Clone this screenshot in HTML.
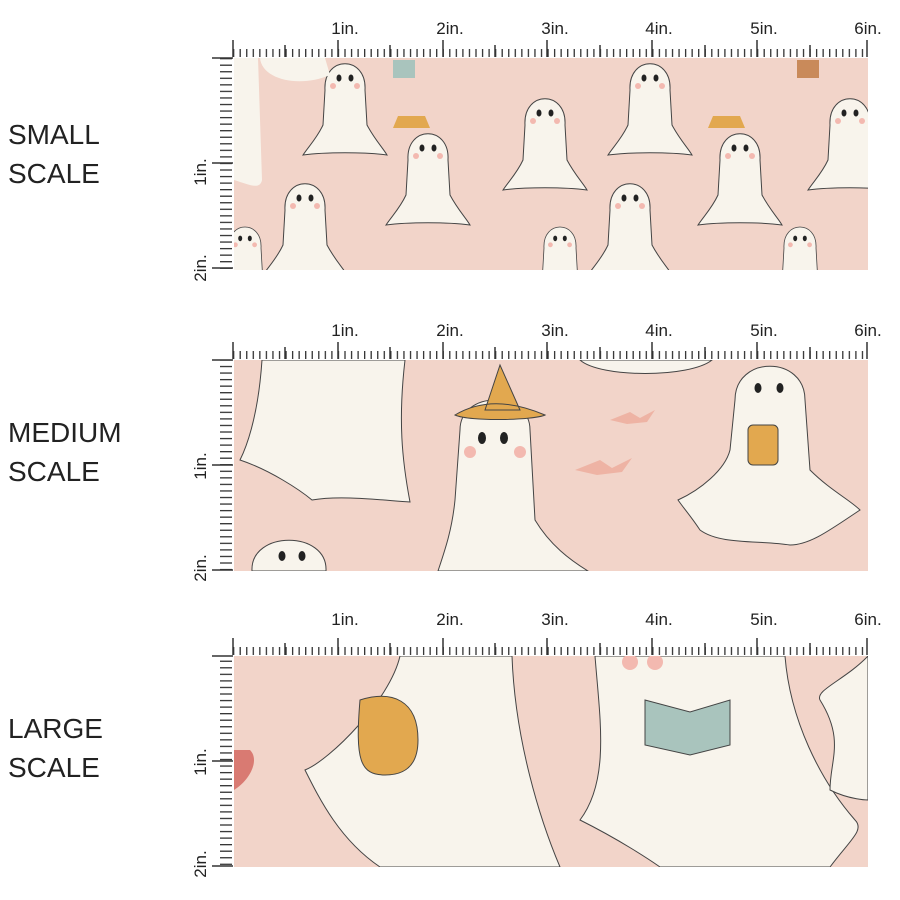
<!DOCTYPE html>
<html><head><style>body{margin:0;background:#fff}svg{display:block}</style></head><body>
<svg width="900" height="900" viewBox="0 0 900 900" xmlns="http://www.w3.org/2000/svg" font-family="Liberation Sans, sans-serif">
<defs>
<pattern id="ht" x="233" y="0" width="6.55" height="900" patternUnits="userSpaceOnUse"><rect x="0" y="0" width="1.3" height="900" fill="#333"/></pattern>
<pattern id="vt" x="0" y="58" width="900" height="6.55" patternUnits="userSpaceOnUse"><rect x="0" y="0" width="900" height="1.3" fill="#333"/></pattern>
<clipPath id="c1"><rect x="234" y="58" width="634" height="212"/></clipPath>
<clipPath id="c2"><rect x="234" y="360" width="634" height="211"/></clipPath>
<clipPath id="c3"><rect x="234" y="656" width="634" height="211"/></clipPath>
<g id="g1"><path d="M-20,10 C-22,-25 22,-25 20,10 L22,45 C30,60 38,68 42,75 C20,72 -20,72 -42,75 C-36,66 -28,58 -22,45 Z" fill="#f8f4ec" stroke="#444" stroke-width="1"/><ellipse cx="-6" cy="-2" rx="2.5" ry="3.5" fill="#222"/><ellipse cx="6" cy="-2" rx="2.5" ry="3.5" fill="#222"/><circle cx="-12" cy="6" r="3" fill="#f3b9b0"/><circle cx="12" cy="6" r="3" fill="#f3b9b0"/></g>
</defs>
<g font-size="28" fill="#222">
<text x="8" y="144">SMALL</text><text x="8" y="183">SCALE</text>
<text x="8" y="442">MEDIUM</text><text x="8" y="481">SCALE</text>
<text x="8" y="738">LARGE</text><text x="8" y="777">SCALE</text>
</g>

<!-- panel 1 -->
<rect x="234" y="58" width="634" height="212" fill="#f2d4c9"/>
<g clip-path="url(#c1)">
<use href="#g1" transform="translate(345,80)"/>
<use href="#g1" transform="translate(428,150)"/>
<use href="#g1" transform="translate(545,115)"/>
<use href="#g1" transform="translate(650,80)"/>
<use href="#g1" transform="translate(740,150)"/>
<use href="#g1" transform="translate(850,115)"/>
<use href="#g1" transform="translate(305,200)"/>
<use href="#g1" transform="translate(560,240) scale(.8)"/>
<use href="#g1" transform="translate(630,200)"/>
<use href="#g1" transform="translate(800,240) scale(.8)"/>
<use href="#g1" transform="translate(245,240) scale(.8)"/>
<path d="M234,58 L234,180 C250,185 260,190 262,180 L258,58Z" fill="#f8f4ec"/>
<path d="M260,58 C262,80 300,88 330,75 L325,58Z" fill="#f8f4ec"/>
<rect x="393" y="60" width="22" height="18" fill="#a9c4bd"/>
<rect x="797" y="60" width="22" height="18" fill="#c98a5a"/>
<path d="M398,116 L425,116 L430,128 L393,128Z" fill="#e2a84f"/>
<path d="M713,116 L740,116 L745,128 L708,128Z" fill="#e2a84f"/>
</g>

<!-- panel 2 -->
<rect x="234" y="360" width="634" height="211" fill="#f2d4c9"/>
<g clip-path="url(#c2)">
<path d="M262,360 C258,420 245,450 240,460 C270,470 300,490 312,500 C340,495 380,500 410,502 C402,460 398,420 405,360Z" fill="#f8f4ec" stroke="#444"/>
<path d="M460,430 C460,390 530,390 530,430 L535,520 C550,545 570,560 588,571 L438,571 C445,550 452,530 455,500Z" fill="#f8f4ec" stroke="#444"/>
<path d="M455,415 C480,400 510,400 545,415 C535,420 470,422 455,415Z M485,410 L500,365 L520,410Z" fill="#e2a84f" stroke="#444"/>
<ellipse cx="482" cy="438" rx="4" ry="6" fill="#222"/><ellipse cx="504" cy="438" rx="4" ry="6" fill="#222"/>
<circle cx="470" cy="452" r="6" fill="#f3b9b0"/><circle cx="520" cy="452" r="6" fill="#f3b9b0"/>
<path d="M735,400 C735,355 805,355 805,400 L810,470 C830,490 850,500 860,510 C830,530 810,545 790,545 C760,540 720,545 700,530 C690,515 685,510 678,500 C700,490 725,470 730,450Z" fill="#f8f4ec" stroke="#444"/>
<ellipse cx="758" cy="388" rx="3.5" ry="5" fill="#222"/><ellipse cx="780" cy="388" rx="3.5" ry="5" fill="#222"/>
<rect x="748" y="425" width="30" height="40" rx="5" fill="#e2a84f" stroke="#444"/>
<path d="M580,360 C600,378 690,378 712,360Z" fill="#f8f4ec" stroke="#444"/>
<path d="M252,571 C250,530 328,530 326,571Z" fill="#f8f4ec" stroke="#444"/>
<ellipse cx="282" cy="556" rx="3.5" ry="5" fill="#222"/><ellipse cx="302" cy="556" rx="3.5" ry="5" fill="#222"/>
<path d="M610,420 l20,-8 l10,6 l15,-8 l-8,12 l-20,2Z M575,470 l25,-10 l12,8 l20,-10 l-10,14 l-25,3Z" fill="#eeb3a4"/>
</g>

<!-- panel 3 -->
<rect x="234" y="656" width="634" height="211" fill="#f2d4c9"/>
<g clip-path="url(#c3)">
<path d="M400,656 C390,700 330,760 305,770 C320,800 340,840 380,867 L560,867 C540,820 515,740 512,656Z" fill="#f8f4ec" stroke="#444"/>
<path d="M595,656 C600,720 610,780 580,820 C620,840 650,860 660,867 L830,867 C850,840 865,830 855,820 C820,780 790,720 785,656Z" fill="#f8f4ec" stroke="#444"/>
<path d="M868,656 C845,680 815,690 820,700 C845,740 830,760 830,790 C850,800 868,800 868,800Z" fill="#f8f4ec" stroke="#444"/>
<path d="M234,790 C250,780 260,760 250,750 L234,750Z" fill="#d97a72"/>
<path d="M360,700 C392,690 418,700 418,740 C418,770 400,775 385,775 C360,775 355,760 360,700Z" fill="#e2a84f" stroke="#444"/>
<path d="M645,700 L690,712 L730,700 L730,745 L690,755 L645,745Z" fill="#a9c4bd" stroke="#444"/>
<circle cx="630" cy="662" r="8" fill="#f3b9b0"/><circle cx="655" cy="662" r="8" fill="#f3b9b0"/>
</g>

<!-- rulers -->
<g fill="#333">
<!-- top tick strips -->
<rect x="233" y="49" width="635" height="8" fill="url(#ht)"/>
<rect x="233" y="351" width="635" height="8" fill="url(#ht)"/>
<rect x="233" y="647" width="635" height="8" fill="url(#ht)"/>
<!-- vertical tick strips -->
<rect x="220" y="58" width="12" height="212" fill="url(#vt)"/>
<rect x="220" y="360" width="12" height="211" fill="url(#vt)" transform="translate(0,0)"/>
<rect x="220" y="656" width="12" height="211" fill="url(#vt)"/>
</g>
<g stroke="#333" stroke-width="1.5">
<path d="M233,40V57 M338,40V57 M443,40V57 M547,40V57 M652,40V57 M757,40V57 M867,40V57 M285,45V57 M390,45V57 M495,45V57 M600,45V57 M705,45V57 M810,45V57"/>
<path d="M233,342V359 M338,342V359 M443,342V359 M547,342V359 M652,342V359 M757,342V359 M867,342V359 M285,347V359 M390,347V359 M495,347V359 M600,347V359 M705,347V359 M810,347V359"/>
<path d="M233,638V655 M338,638V655 M443,638V655 M547,638V655 M652,638V655 M757,638V655 M867,638V655 M285,643V655 M390,643V655 M495,643V655 M600,643V655 M705,643V655 M810,643V655"/>
<path d="M212,58H233 M212,163H233 M212,268H233 M212,360H233 M212,465H233 M212,570H233 M212,656H233 M212,761H233 M212,866H233"/>
</g>
<g font-size="17" fill="#222" text-anchor="middle">
<text x="345" y="34">1in.</text><text x="450" y="34">2in.</text><text x="555" y="34">3in.</text><text x="659" y="34">4in.</text><text x="764" y="34">5in.</text><text x="868" y="34">6in.</text>
<text x="345" y="336">1in.</text><text x="450" y="336">2in.</text><text x="555" y="336">3in.</text><text x="659" y="336">4in.</text><text x="764" y="336">5in.</text><text x="868" y="336">6in.</text>
<text x="345" y="625">1in.</text><text x="450" y="625">2in.</text><text x="555" y="625">3in.</text><text x="659" y="625">4in.</text><text x="764" y="625">5in.</text><text x="868" y="625">6in.</text>
<text transform="translate(206,172) rotate(-90)">1in.</text><text transform="translate(206,268) rotate(-90)">2in.</text>
<text transform="translate(206,466) rotate(-90)">1in.</text><text transform="translate(206,568) rotate(-90)">2in.</text>
<text transform="translate(206,762) rotate(-90)">1in.</text><text transform="translate(206,864) rotate(-90)">2in.</text>
</g>
</svg>
</body></html>
